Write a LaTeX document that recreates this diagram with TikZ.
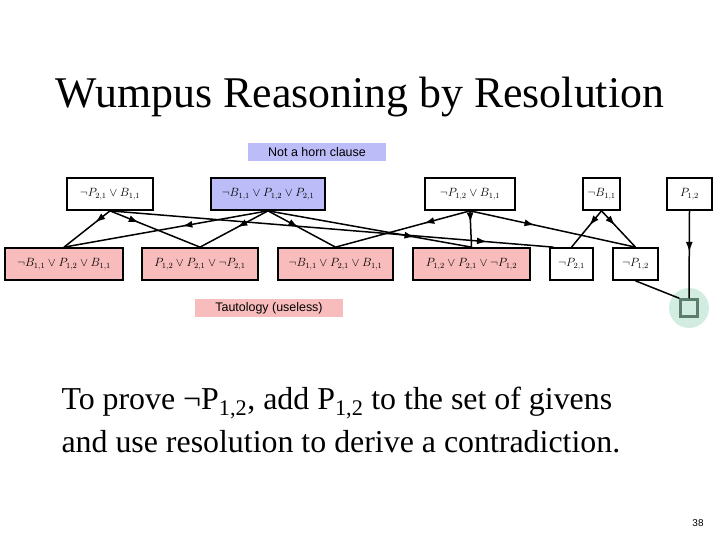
\documentclass[tikz,border=0pt]{standalone}
\usepackage{fontspec}
\setmainfont{Liberation Serif}
\setsansfont{Liberation Sans}
\usetikzlibrary{arrows.meta,decorations.markings}
\definecolor{hornblue}{RGB}{188,188,248}
\definecolor{tautred}{RGB}{248,188,188}
\definecolor{nullgreen}{RGB}{210,236,226}
\definecolor{nullbox}{RGB}{92,124,108}

\begin{document}
\begin{tikzpicture}[x=1bp,y=-1bp,>=Latex,font=\fontsize{11.5}{13}\selectfont,
    clause/.style={draw,line width=1.7bp,minimum height=32bp,inner sep=2bp},
    note/.style={font=\sffamily\fontsize{12.5}{14}\selectfont,minimum height=18bp,inner sep=1bp},
    res/.style={line width=1.5bp,postaction={decorate},
      decoration={markings,mark=at position #1 with {\arrow{Latex[length=10bp,width=7bp]}}}},
    res/.default=0.4]
        \useasboundingbox (0,0) rectangle (720,540);
        \node[anchor=base,font=\fontsize{44}{50}\selectfont] (title) at (360,108) {Wumpus Reasoning by Resolution};
        \node[note,fill=hornblue,minimum width=138bp] (horn) at (317,152) {Not a horn clause};
        % given clauses
        \node[clause,minimum width=86bp] (c1) at (110,194) {$\neg P_{2,1} \vee B_{1,1}$};
        \node[clause,fill=hornblue,minimum width=114bp] (c2) at (268,194) {$\neg B_{1,1} \vee P_{1,2} \vee P_{2,1}$};
        \node[clause,minimum width=90bp] (c3) at (470,194) {$\neg P_{1,2} \vee B_{1,1}$};
        \node[clause,minimum width=37bp] (c4) at (601.5,194) {$\neg B_{1,1}$};
        \node[clause,minimum width=45bp] (c5) at (689.5,194) {$P_{1,2}$};
        % resolvents
        \node[clause,fill=tautred,minimum width=118bp] (r1) at (64,264) {$\neg B_{1,1} \vee P_{1,2} \vee B_{1,1}$};
        \node[clause,fill=tautred,minimum width=116bp] (r2) at (200,264) {$P_{1,2} \vee P_{2,1} \vee \neg P_{2,1}$};
        \node[clause,fill=tautred,minimum width=115bp] (r3) at (335.5,264) {$\neg B_{1,1} \vee P_{2,1} \vee B_{1,1}$};
        \node[clause,fill=tautred,minimum width=117bp] (r4) at (471.5,264) {$P_{1,2} \vee P_{2,1} \vee \neg P_{1,2}$};
        \node[clause,minimum width=43bp] (r5) at (571.5,264) {$\neg P_{2,1}$};
        \node[clause,minimum width=45bp] (r6) at (635.5,264) {$\neg P_{1,2}$};
        \node[note,fill=tautred,minimum width=148bp] (taut) at (269,308) {Tautology (useless)};
        \node[circle,fill=nullgreen,minimum size=40bp] (nullbg) at (689,308) {};
        \node[draw=nullbox,line width=2.5bp,minimum size=17bp,inner sep=0pt] (empty) at (689,308) {};
        % resolution steps
        \draw[res=0.32] (c1.south) -- (r1.north);
        \draw[res=0.32] (c1.south) -- (r2.north);
        \draw[res=0.85] (c1.south) -- ([xshift=-18bp]r5.north);
        \draw[res=0.42] (c2.south) -- (r1.north);
        \draw[res=0.45] (c2.south) -- (r2.north);
        \draw[res=0.45] (c2.south) -- (r3.north);
        \draw[res=0.72] (c2.south) -- (r4.north);
        \draw[res=0.34] (c3.south) -- (r3.north);
        \draw[res=0.32] (c3.south) -- (r4.north);
        \draw[res=0.39] (c3.south) -- (r6.north);
        \draw[res] (c4.south) -- (r5.north);
        \draw[res] (c4.south) -- (r6.north);
        \draw[res=0.47] (c5.south) -- (empty.north);
        \draw[line width=1.5bp] (r6.south) -- (empty.north west);
        % goal text
        \node[anchor=base west,font=\fontsize{32}{40}\selectfont] (goal1) at (58,409) {To prove ¬P\textsubscript{1,2}, add P\textsubscript{1,2} to the set of givens};
        \node[anchor=base west,font=\fontsize{32}{40}\selectfont] (goal2) at ([yshift=-43bp]goal1.base west) {and use resolution to derive a contradiction.};
        \node[font=\sffamily\fontsize{10}{11}\selectfont] (pnum) at (698,523) {38};
      \end{tikzpicture}
\end{document}
